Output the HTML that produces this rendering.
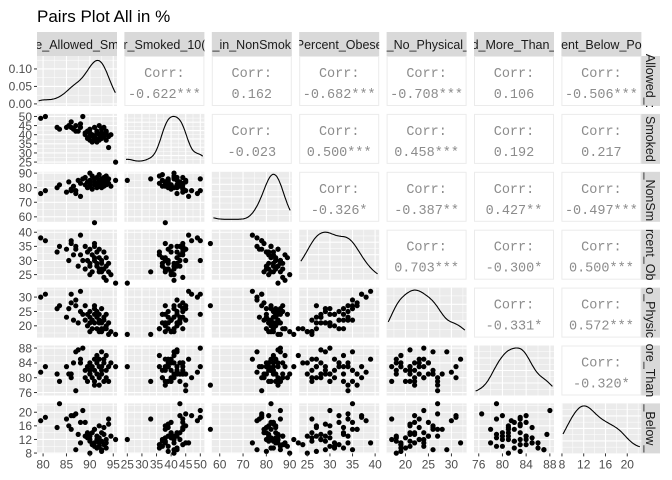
<!DOCTYPE html>
<html><head><meta charset="utf-8"><style>
body{margin:0;background:#fff;}
svg{display:block;font-family:"Liberation Sans",sans-serif;}
</style></head><body>
<svg id="chart" width="672" height="480" viewBox="0 0 672 480">
<text x="37" y="22" font-size="17" fill="#000">Pairs Plot All in %</text>
</svg>
<script>
const varLabels=["e_Allowed_Sm","r_Smoked_10(","_in_NonSmok","Percent_Obese","t_No_Physical_","d_More_Than_","ent_Below_Po"];
const rowLabels=["Allowed_:","Smoked","_NonSm","rcent_Ob","o_Physic","ore_Than","_Below_"];
const colA=[79.5,80.5,83,83.5,85,85.5,86,86.5,87,87.5,88,88.5,89,89,89.5,89.5,90,90,90,90.5,90.5,91,91,91,91.5,91.5,91.5,92,92,92,92,92.5,92.5,92.5,92.5,93,93,93,93.5,93.5,93.5,94,94,94.5,88,87,91,95.5,86,90];
const colB=[49,50,44,43,44,45,44,43,45,42,44,50,40,41,38,42,37,39,43,36,40,38,44,39,41,36,42,38,45,40,37,39,43,41,38,40,44,39,42,37,41,39,33,40,46,42,38,25,47,41];
const colC=[76,78,80,82,77,84,79,81,78,85,83,86,82,87,84,80,81,85,83,88,79,84,82,86,80,83,87,81,85,82,89,80,84,86,83,81,87,84,82,85,88,83,86,81,74,76,56,85,78,90];
const colD=[38,37,33,35,34,30,36,32,34,28,32,30,35,27,30,33,29,34,28,32,26,31,35,30,28,33,29,27,34,26,31,27,30,29,26,33,24,27,31,28,23,29,26,25,39,35,36,22,37,25];
const colE=[30,31,26,27,23,26,28,22,27,21,25,24,22,27,20,24,21,25,23,19,22,24,26,21,23,19,25,21,22,18,24,19,21,26,18,22,19,23,20,24,19,21,17,18,32,29,27,17,31,18];
const colF=[81.5,83,81,79,83,81,81,84,76.5,87.5,84,88,82,80,79,83,82,84,81,83,80,85,82,79,84,86,81,83,78,85,80,83,81,87,82,79,84,85,82,80,86,83,79,84,85,87,78,83,80,81];
const colG=[17.5,18.5,15.5,22.5,18,16,15,19,19.5,13.5,17,20.5,17,13,12.5,14,11.5,13,12,10.5,14,11,15,10,12,9.5,13,16,11,12.5,10,8.5,14,9,11.5,13.5,10.5,15.5,9.5,12,11,16.5,18,13,11,9,15,12,19,8];
const corrText=[["-0.622***","0.162","-0.682***","-0.708***","0.106","-0.506***"],["-0.023","0.500***","0.458***","0.192","0.217"],["-0.326*","-0.387**","0.427**","-0.497***"],["0.703***","-0.300*","0.500***"],["-0.331*","0.572***"],["-0.320*"]];
const ticks=[[80,85,90,95],[25,30,35,40,45,50],[60,70,80,90],[25,30,35,40],[20,25,30],[76,80,84,88],[8,12,16,20]];
const domains=[[78.7,95.8],[24.0,51.4],[56.6,90.9],[23.2,40.9],[15.9,33.3],[75.2,88.7],[7.9,22.6]];
const densTicks=[0,0.05,0.10];
const densDomain=[-0.006,0.137];

const cols=[colA,colB,colC,colD,colE,colF,colG];
const NS="http://www.w3.org/2000/svg";
const svg=document.getElementById('chart');
const px0=37,pStep=87.4,pW=80,py0=56,pStepY=57.9,pH=50;
function mk(tag,attrs,parent){const e=document.createElementNS(NS,tag);for(const k in attrs)e.setAttribute(k,attrs[k]);(parent||svg).appendChild(e);return e;}
function xs(j,v){const d=domains[j];return px0+j*pStep+(v-d[0])/(d[1]-d[0])*pW;}
function ys(i,v){const d=domains[i];return py0+i*pStepY+pH-(v-d[0])/(d[1]-d[0])*pH;}
function minors(t){const m=[];const s=t[1]-t[0];m.push(t[0]-s/2);for(const v of t)m.push(v+s/2);return m;}
function kde(arr,lo,hi){const n=arr.length;const mean=arr.reduce((a,b)=>a+b)/n;const sd=Math.sqrt(arr.reduce((a,b)=>a+(b-mean)**2,0)/(n-1));const h=0.9*sd*Math.pow(n,-0.2);const out=[];for(let k=0;k<=80;k++){const x=lo+(hi-lo)*k/80;let s=0;for(const v of arr)s+=Math.exp(-0.5*((x-v)/h)**2);out.push([x,s/(n*h*Math.sqrt(2*Math.PI))]);}return out;}

for(let j=0;j<7;j++){
  const x=px0+j*pStep;
  const g=mk('g',{});
  const cp=mk('clipPath',{id:'cs'+j},g);mk('rect',{x:x,y:32,width:pW,height:24},cp);
  mk('rect',{x:x,y:32,width:pW,height:24,fill:'#D9D9D9'},g);
  const t=mk('text',{x:x+pW/2,y:49,'text-anchor':'middle','font-size':'12.5',fill:'#1A1A1A','clip-path':'url(#cs'+j+')'},g);t.textContent=varLabels[j];
}
for(let i=0;i<7;i++){
  const y=py0+i*pStepY;
  const g=mk('g',{});
  mk('rect',{x:641,y:y,width:19,height:pH,fill:'#D9D9D9'},g);
  const t=mk('text',{x:0,y:0,'text-anchor':'middle','font-size':'12.5',fill:'#1A1A1A',transform:`translate(646,${y+pH/2}) rotate(90)`},g);
  t.textContent=rowLabels[i];
}
for(let i=0;i<7;i++)for(let j=0;j<7;j++){
  const x=px0+j*pStep,y=py0+i*pStepY;
  const g=mk('g',{});
  if(j>i){
    
    mk('rect',{x:x+0.5,y:y+0.5,width:pW-1,height:pH-1,fill:'#fff',stroke:'#EBEBEB'},g);
    const t1=mk('text',{x:x+pW/2,y:y+21,'text-anchor':'middle','font-size':'13.5',fill:'#8C8C8C','font-family':'"Liberation Mono",monospace'},g);t1.textContent='Corr:';
    const t2=mk('text',{x:x+pW/2,y:y+42,'text-anchor':'middle','font-size':'13.5',fill:'#8C8C8C','font-family':'"Liberation Mono",monospace'},g);t2.textContent=corrText[i][j-i-1];
    continue;
  }
  
  mk('rect',{x:x,y:y,width:pW,height:pH,fill:'#EBEBEB'},g);
  const cp=mk('clipPath',{id:'p'+i+'_'+j},g);mk('rect',{x:x,y:y,width:pW,height:pH},cp);
  const gg=mk('g',{'clip-path':'url(#p'+i+'_'+j+')'},g);
  for(const v of minors(ticks[j]))mk('line',{x1:xs(j,v),x2:xs(j,v),y1:y,y2:y+pH,stroke:'#fff','stroke-width':0.5},gg);
  for(const v of ticks[j])mk('line',{x1:xs(j,v),x2:xs(j,v),y1:y,y2:y+pH,stroke:'#fff','stroke-width':1.1},gg);
  if(i==j){
    const d=domains[j];const kd=kde(cols[j],d[0]+0.02*(d[1]-d[0]),d[1]-0.02*(d[1]-d[0]));
    let yf;
    if(i==0){yf=v=>y+pH-(v-densDomain[0])/(densDomain[1]-densDomain[0])*pH;
      for(const v of [0.025,0.075,0.125])mk('line',{x1:x,x2:x+pW,y1:yf(v),y2:yf(v),stroke:'#fff','stroke-width':0.5},gg);
      for(const v of densTicks)mk('line',{x1:x,x2:x+pW,y1:yf(v),y2:yf(v),stroke:'#fff','stroke-width':1.1},gg);
    }else{
      const mx=Math.max(...kd.map(p=>p[1]));yf=v=>y+pH-2.5-v/mx*(pH-5);
      const n=ticks[i].length*2;for(let k=1;k<n;k++)mk('line',{x1:x,x2:x+pW,y1:y+k*pH/n,y2:y+k*pH/n,stroke:'#fff','stroke-width':k%2?0.5:1.1},gg);
    }
    const path=mk('path',{d:'M'+kd.map(p=>xs(j,p[0]).toFixed(1)+','+yf(p[1]).toFixed(1)).join('L'),fill:'none',stroke:'#000','stroke-width':1.1},gg);
    
    
  }else{
    for(const v of minors(ticks[i]))mk('line',{x1:x,x2:x+pW,y1:ys(i,v),y2:ys(i,v),stroke:'#fff','stroke-width':0.5},gg);
    for(const v of ticks[i])mk('line',{x1:x,x2:x+pW,y1:ys(i,v),y2:ys(i,v),stroke:'#fff','stroke-width':1.1},gg);
    for(let k=0;k<cols[j].length;k++){
      const c=mk('circle',{cx:xs(j,cols[j][k]).toFixed(1),cy:ys(i,cols[i][k]).toFixed(1),r:2.6,fill:'#000'},g);
      
      
    }
  }
}
for(let j=0;j<7;j++){
  const g=mk('g',{});
  const yb=py0+6*pStepY+pH;
  for(const v of ticks[j]){mk('line',{x1:xs(j,v),x2:xs(j,v),y1:yb,y2:yb+3,stroke:'#333'},g);
    const t=mk('text',{x:xs(j,v),y:yb+15,'text-anchor':'middle','font-size':'12',fill:'#4D4D4D'},g);t.textContent=v;}
}
for(let i=0;i<7;i++){
  const g=mk('g',{});
  const y=py0+i*pStepY;
  const tk=i==0?densTicks:ticks[i];
  for(const v of tk){
    const yy=i==0?y+pH-(v-densDomain[0])/(densDomain[1]-densDomain[0])*pH:ys(i,v);
    mk('line',{x1:34,x2:37,y1:yy,y2:yy,stroke:'#333'},g);
    const t=mk('text',{x:32,y:yy+4.3,'text-anchor':'end','font-size':'12',fill:'#4D4D4D'},g);t.textContent=i==0?v.toFixed(2):v;
  }
}
</script>
</body></html>
